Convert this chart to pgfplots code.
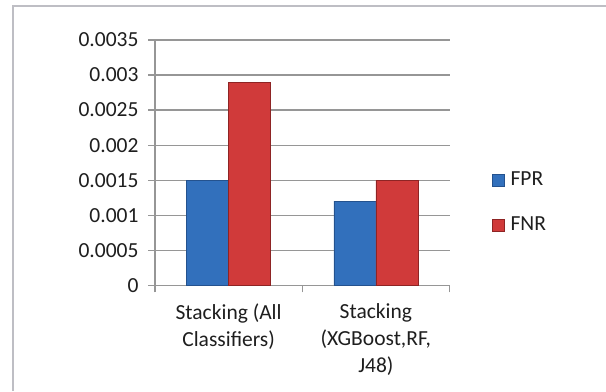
\documentclass[border=0pt]{standalone}
\usepackage{fontspec}
\setmainfont{Carlito}
\usepackage{pgfplots}
\pgfplotsset{compat=1.18}

\definecolor{fprblue}{RGB}{50,112,188}
\definecolor{fpredge}{RGB}{36,82,142}
\definecolor{fnrred}{RGB}{208,58,58}
\definecolor{fnredge}{RGB}{142,36,36}
\definecolor{gridgray}{RGB}{150,150,150}
\definecolor{framegray}{RGB}{190,190,196}
\definecolor{txt}{RGB}{30,30,30}

\begin{document}
\begin{tikzpicture}[x=1bp,y=1bp]
  \path[use as bounding box] (0,0) rectangle (606,391);
  % chart frame
  \draw[framegray, line width=1.5bp] (13,0) -- (13,385) -- (606,385);
  \begin{axis}[
    at={(155bp,105.7bp)}, anchor=south west,
    scale only axis, width=294.5bp, height=245.3bp,
    ybar=0pt, bar width=42bp,
    xmin=-0.5, xmax=1.5,
    ymin=0, ymax=0.0035,
    axis x line*=bottom, axis y line*=left,
    axis line style={gridgray, line width=1.2bp},
    xtick={0,1},
    xticklabels={{Stacking (All\\Classifiers)},{Stacking\\(XGBoost,RF,\\J48)}},
    minor xtick={-0.5,0.5,1.5},
    major x tick style={draw=none},
    minor x tick style={gridgray, line width=1.2bp},
    minor tick length=7bp,
    scaled y ticks=false,
    ytick={0,0.0005,0.001,0.0015,0.002,0.0025,0.003,0.0035},
    yticklabels={0,0.0005,0.001,0.0015,0.002,0.0025,0.003,0.0035},
    major tick length=7bp,
    tick align=outside,
    y tick style={gridgray, line width=1.2bp},
    ymajorgrids,
    major grid style={gridgray, line width=1.2bp},
    tick label style={font=\fontsize{21.5bp}{27bp}\selectfont, text=txt},
    xticklabel style={align=center, yshift=-8bp},
    yticklabel style={xshift=-6bp},
    legend style={
      at={(1.1443,0.3375)}, anchor=west,
      draw=none, fill=none, inner sep=0pt, outer sep=0pt,
      font=\fontsize{21.5bp}{27bp}\selectfont, text=txt,
      row sep=25bp,
      nodes={text height=15bp, text depth=5bp, inner sep=0pt, outer sep=0pt},
    },
    legend cell align=left,
    legend image code/.code={
      \draw[#1, line width=0.6bp] (0bp,-6bp) rectangle (12bp,6bp);
    },
    /tikz/every even column/.append style={column sep=0pt},
    /tikz/every odd column/.append style={column sep=6bp},
  ]
    \addplot[fill=fprblue, draw=fpredge, line width=0.6bp]
      coordinates {(0,0.0015) (1,0.0012)};
    \addplot[fill=fnrred, draw=fnredge, line width=0.6bp]
      coordinates {(0,0.0029) (1,0.0015)};
    \legend{FPR,FNR}
  \end{axis}
\end{tikzpicture}
\end{document}
